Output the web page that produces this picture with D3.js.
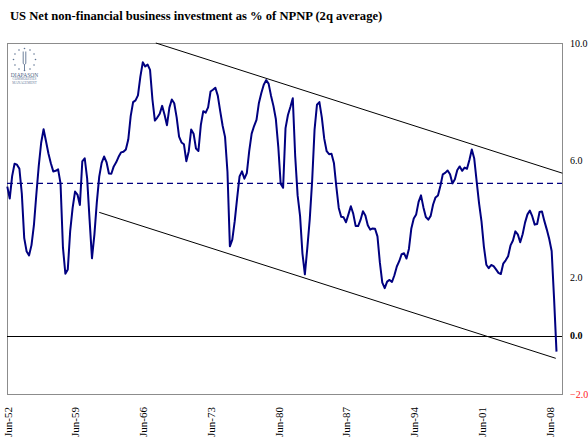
<!DOCTYPE html>
<html>
<head>
<meta charset="utf-8">
<script src="https://cdn.jsdelivr.net/npm/d3@7"></script>
<style>
  body { margin: 0; background: #fff; }
  svg { display: block; }
</style>
</head>
<body>
<svg id="chart"></svg>
<script>
const width = 588;
const height = 439;

// quarterly, Jun-52 .. Mar-09, % of NPNP (2q average)
const investment = [
  5.09, 4.68, 5.45, 5.87, 5.84, 5.70, 4.85, 3.33, 2.87, 2.74,
  3.09, 3.77, 4.82, 5.80, 6.59, 7.05, 6.64, 6.22, 5.89, 5.61,
  5.63, 5.68, 5.20, 3.01, 2.11, 2.26, 3.58, 4.36, 4.92, 4.82,
  4.46, 5.95, 6.06, 5.37, 3.97, 2.64, 3.45, 4.55, 5.43, 5.90,
  6.12, 5.93, 5.54, 5.53, 5.78, 5.92, 6.11, 6.26, 6.28, 6.36,
  6.70, 7.50, 7.98, 8.04, 8.21, 8.85, 9.34, 9.20, 9.26, 9.08,
  8.06, 7.35, 7.45, 7.58, 7.85, 7.55, 7.19, 7.79, 8.07, 7.94,
  7.46, 6.80, 6.60, 6.54, 5.96, 6.30, 7.04, 6.90, 6.39, 6.31,
  7.20, 7.67, 7.62, 7.80, 8.34, 8.40, 8.47, 8.20, 7.67, 7.17,
  6.79, 5.60, 3.05, 3.28, 3.91, 4.70, 5.44, 5.61, 5.36, 5.55,
  6.31, 6.90, 7.16, 7.37, 7.95, 8.29, 8.57, 8.73, 8.61, 8.20,
  7.85, 7.40, 6.46, 5.19, 5.05, 7.09, 7.54, 7.81, 8.11, 6.13,
  4.79, 4.10, 2.80, 2.09, 2.99, 3.96, 5.28, 7.04, 7.89, 7.98,
  7.46, 6.73, 6.30, 6.20, 6.21, 5.90, 5.09, 4.36, 4.06, 4.04,
  3.87, 4.14, 4.42, 4.16, 3.74, 3.74, 3.95, 4.25, 4.10, 3.77,
  3.62, 3.66, 3.65, 3.39, 2.49, 1.81, 1.62, 1.84, 1.90, 1.83,
  2.06, 2.36, 2.54, 2.78, 2.81, 2.63, 2.96, 3.66, 4.00, 4.14,
  4.57, 4.79, 4.38, 4.05, 3.96, 4.09, 4.48, 4.72, 4.79, 5.11,
  5.51, 5.56, 5.64, 5.51, 5.20, 5.34, 5.66, 5.78, 5.63, 5.74,
  5.70, 6.00, 6.36, 6.05, 5.27, 4.52, 3.90, 3.03, 2.42, 2.30,
  2.41, 2.37, 2.26, 2.14, 2.10, 2.46, 2.57, 2.71, 3.08, 3.25,
  3.56, 3.46, 3.19, 3.46, 3.86, 4.14, 4.27, 4.07, 3.79, 3.81,
  4.22, 4.24, 3.91, 3.62, 3.30, 2.89, 1.26, -0.55
];

const averageLevel = 5.2;

// channel lines: [quarter index, value]
const upperChannel = [[61.4, 10.0], [229.4, 5.55]];
const lowerChannel = [[38.0, 4.21], [226.7, -0.78]];

const tickQuarters = [0, 28, 56, 84, 112, 140, 168, 196, 224];
const tickLabels = ["Jun-52", "Jun-59", "Jun-66", "Jun-73", "Jun-80", "Jun-87", "Jun-94", "Jun-01", "Jun-08"];
const yTicks = [10, 6, 2, 0, -2];

const plot = { left: 7, right: 562, top: 43, bottom: 394 };

const svg = d3.select("#chart")
  .attr("width", width)
  .attr("height", height);

const x = d3.scaleLinear()
  .domain([0, 229.4])
  .range([plot.left + 0.3, plot.right + 0.3]);

const y = d3.scaleLinear()
  .domain([-2, 10])
  .range([plot.bottom, plot.top]);

// title
svg.append("text")
  .attr("x", 10)
  .attr("y", 19.5)
  .attr("font-family", "'Liberation Serif', 'Times New Roman', serif")
  .attr("font-weight", "bold")
  .attr("font-size", "12.6px")
  .attr("fill", "#000")
  .text("US Net non-financial business investment as % of NPNP (2q average)");

// plot frame
svg.append("rect")
  .attr("x", plot.left + 0.5)
  .attr("y", plot.top + 0.5)
  .attr("width", plot.right - plot.left)
  .attr("height", plot.bottom - plot.top)
  .attr("fill", "none")
  .attr("stroke", "#8c8c8c")
  .attr("stroke-width", 1);

// logo
const logo = svg.append("g").attr("transform", "translate(24.5,59.5)");
d3.range(12).forEach((k) => {
  const a = (k / 12) * 2 * Math.PI;
  logo.append("circle")
    .attr("cx", Math.cos(a) * 11)
    .attr("cy", Math.sin(a) * 11)
    .attr("r", 0.8)
    .attr("fill", "#5d7391");
});
logo.append("path")
  .attr("d", "M-1.3,-8 V4 Q0,6 1.3,4 V-8 M0,5 V11")
  .attr("fill", "none")
  .attr("stroke", "#5d7391")
  .attr("stroke-width", 0.9);
logo.append("text")
  .attr("x", 0).attr("y", 17)
  .attr("text-anchor", "middle")
  .attr("font-family", "'Liberation Serif', serif")
  .attr("font-size", "5.5px")
  .attr("fill", "#4f6585")
  .text("DIAPASON");
logo.append("text")
  .attr("x", 0).attr("y", 20.5)
  .attr("text-anchor", "middle")
  .attr("font-family", "'Liberation Serif', serif")
  .attr("font-size", "3.4px")
  .attr("fill", "#6a819e")
  .text("COMMODITIES");
logo.append("text")
  .attr("x", 0).attr("y", 24)
  .attr("text-anchor", "middle")
  .attr("font-family", "'Liberation Serif', serif")
  .attr("font-size", "3.4px")
  .attr("fill", "#6a819e")
  .text("MANAGEMENT");

// zero line
svg.append("line")
  .attr("x1", plot.left)
  .attr("x2", plot.right)
  .attr("y1", Math.round(y(0)) + 0.5)
  .attr("y2", Math.round(y(0)) + 0.5)
  .attr("stroke", "#000")
  .attr("stroke-width", 1);

// average (dashed)
svg.append("line")
  .attr("x1", plot.left)
  .attr("x2", plot.right)
  .attr("y1", y(averageLevel))
  .attr("y2", y(averageLevel))
  .attr("stroke", "#000080")
  .attr("stroke-width", 1.3)
  .attr("stroke-dasharray", "6,4");

// channel
const straight = d3.line()
  .x((d) => x(d[0]))
  .y((d) => y(d[1]));

[upperChannel, lowerChannel].forEach((pts) => {
  svg.append("path")
    .attr("d", straight(pts))
    .attr("fill", "none")
    .attr("stroke", "#000")
    .attr("stroke-width", 1);
});

// series
const line = d3.line()
  .x((d, i) => x(i))
  .y((d) => y(d));

svg.append("path")
  .datum(investment)
  .attr("d", line)
  .attr("fill", "none")
  .attr("stroke", "#000080")
  .attr("stroke-width", 2)
  .attr("stroke-linejoin", "round");

// right value axis
const yAxis = svg.append("g")
  .attr("transform", `translate(${plot.right},0)`)
  .call(
    d3.axisRight(y)
      .tickValues(yTicks)
      .tickSize(0)
      .tickPadding(8)
      .tickFormat(d3.format(".1f"))
  );
yAxis.select(".domain").remove();
yAxis.selectAll("text")
  .attr("font-family", "'Liberation Serif', 'Times New Roman', serif")
  .attr("font-size", "10px")
  .attr("fill", (d) => (d < 0 ? "#ff2020" : "#000"))
  .attr("font-weight", (d) => (d === 0 ? "bold" : "normal"));

// category labels
const xAxis = svg.append("g")
  .attr("transform", `translate(0,${plot.bottom})`)
  .call(
    d3.axisBottom(x)
      .tickValues(tickQuarters)
      .tickSize(0)
      .tickFormat((d, i) => tickLabels[i])
  );
xAxis.select(".domain").remove();
xAxis.selectAll("text")
  .attr("font-family", "'Liberation Serif', 'Times New Roman', serif")
  .attr("font-size", "11px")
  .attr("fill", "#000")
  .attr("text-anchor", "end")
  .attr("transform", "rotate(-90)")
  .attr("x", -13)
  .attr("y", 0)
  .attr("dy", "0.35em");
</script>
</body>
</html>
